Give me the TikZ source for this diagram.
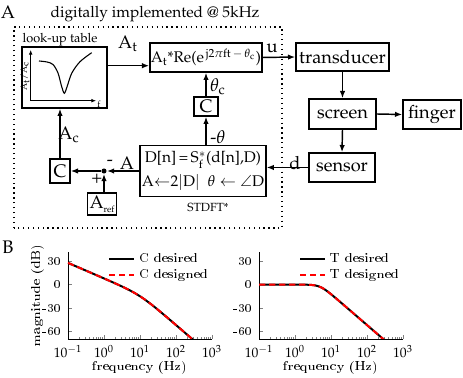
\documentclass[tikz,border=0pt]{standalone}
\usepackage[T1]{fontenc}
\usepackage{mathpazo}
\usepackage{amsmath,amssymb}
\usepackage{tikz}
\usepackage{pgfplots}
\pgfplotsset{compat=1.18}
\usetikzlibrary{positioning,arrows.meta}

\tikzset{
  desired/.style={black, solid, line width=1.1pt},
  designed/.style={red, line width=1.1pt, dash pattern=on 3.5pt off 2pt},
}
\newcommand{\plotfont}{\fontfamily{lmr}\fontsize{7.5}{8.5}\selectfont}

\begin{document}
\begin{tikzpicture}[x=0.55pt, y=0.55pt,
    blk/.style={draw, line width=0.8pt, inner sep=1pt, align=center},
    sig/.style={line width=0.8pt, -{Latex[length=4pt,width=3pt]}},
    thin sig/.style={line width=0.4pt, -{Latex[length=2.5pt,width=2pt]}}]
  \useasboundingbox (0,0) rectangle (463,378);

  % panel A
  \node at (8,366) {A};
  \node[font=\fontsize{8.5}{10}\selectfont] at (155,364) {digitally implemented @ 5kHz};
  \draw[dotted, line width=0.7pt] (14,150) rectangle (282,351);

  % blocks
  \node[blk, minimum width=46.75pt, minimum height=33.55pt] (lut) at (64.5,300.5) {};
  \node[font=\fontsize{7}{8}\selectfont] at (60,338) {look-up table};
  \node[blk, minimum width=59.4pt, minimum height=15.95pt, inner sep=0.5pt, font=\fontsize{8.5}{10}\selectfont] (mod) at (206,320.5)
    {A$_\mathrm{t}$*Re(e$^{\,\mathrm{j2}\pi\mathrm{ft}\,-\,\theta_\mathrm{c}}$)};
  \node[blk, minimum width=13.2pt, minimum height=10.45pt] (cth) at (206,271.5) {C};
  \node[blk, minimum width=66pt, minimum height=28.05pt, font=\fontsize{8.5}{13}\selectfont] (stdft) at (203,207)
    {D[n]\,=\,S$^*_\mathrm{f}$(d[n],D)\\ A$\leftarrow$2$|$D$|$~~$\theta\leftarrow\angle$D};
  \node[font=\fontsize{6.5}{8}\selectfont] at (208,170) {STDFT*};
  \node[blk, minimum width=11pt, minimum height=13.2pt] (cA) at (60,207) {C};
  \node[blk, minimum width=11.55pt, minimum height=12.1pt] (aref) at (102,174)
    {A\raisebox{-0.5ex}{\fontsize{5}{5}\selectfont ref}};
  \node[circle, fill, inner sep=0pt, minimum size=2.8pt] (sum) at (104,207) {};

  \node[blk, minimum width=51.15pt, minimum height=15.4pt] (trans) at (342.5,321) {transducer};
  \node[blk, minimum width=36.85pt, minimum height=16.5pt] (screen) at (342.5,264) {screen};
  \node[blk, minimum width=31.9pt, minimum height=15.95pt] (finger) at (432,263.5) {finger};
  \node[blk, minimum width=36.3pt, minimum height=15.95pt] (sensor) at (342,210.5) {sensor};

  % look-up curve
  \draw[thin sig] (30.7,277.3) -- (30.7,328);
  \draw[thin sig] (30,277.3) -- (96,277.3);
  \node[font=\fontsize{5}{6}\selectfont] at (99,274) {f};
  \node[rotate=90, font=\fontsize{5}{6}\selectfont] at (25,302) {A$_\mathrm{t}$/A$_\mathrm{c}$};
  \draw[line width=0.6pt] plot[smooth, tension=0.5] coordinates {(39,317) (47,316) (53,313.5)
    (58,305) (61.5,292) (64.3,284.7) (67,291) (71.7,304.7) (80,316.3) (91.7,325.3)};

  % signals
  \coordinate (atin) at (152,312.3);
  \draw[sig] (lut.east |- atin) -- (mod.west |- atin);
  \node at (128,334) {A$_\mathrm{t}$};
  \draw[sig] (mod.east) -- (trans.west);
  \node at (272,330) {u};
  \draw[sig] (trans.south) -- (screen.north);
  \draw[sig] (screen.east) -- (finger.west);
  \draw[sig] (screen.south) -- (sensor.north);
  \draw[sig] (sensor.west) -- (sensor.west -| stdft.east);
  \node at (295,215) {d};
  \draw[sig] (stdft.north -| cth) -- (cth.south);
  \node at (218,241) {-$\theta$};
  \draw[sig] (cth.north) -- (mod.south);
  \node at (218,291) {$\theta_\mathrm{c}$};
  \draw[sig] (stdft.west) -- (sum);
  \node at (110,215) {-};
  \node at (127,215) {A};
  \draw[sig] (sum) -- (cA.east);
  \draw[sig] (aref.north -| sum) -- (sum);
  \node at (97,199) {+};
  \draw[sig] (cA.north) -- (cA.north |- lut.south);
  \node at (69,243) {A$_\mathrm{c}$};

  % panel B
  \node at (8,131) {B};
  \begin{axis}[at={(37.4pt,21.45pt)}, anchor=south west,
      scale only axis, width=79.2pt, height=47.85pt,
      xmode=log, xmin=0.1, xmax=1000, ymin=-70, ymax=42,
      xtick={0.1,1,10,100,1000},
      ytick={-60,-30,0,30}, yticklabels={-60,-30,0,30},
      axis x line*=bottom, axis y line*=left,
      tick align=inside, major tick length=2pt, minor tick length=1.2pt,
      tick label style={font=\plotfont}, label style={font=\plotfont},
      xlabel={frequency (Hz)}, ylabel={magnitude (dB)},
      xlabel style={at={(axis description cs:0.5,-0.32)}, anchor=center},
      ylabel style={at={(axis description cs:-0.21,0.5)}, anchor=center},
      legend cell align=left,
      legend style={draw=none, fill=none, at={(1.01,1.04)}, anchor=north east,
        font=\plotfont, inner sep=0.5pt, row sep=-1.5pt},
      legend image code/.code={\draw[#1] (0pt,0pt) -- (14pt,0pt);}]
    \addplot[desired, domain=-1:3, samples=160]
      ({10^x}, {8 - 20*x - 10*log10(1 + 10^(2*x - 2))});
    \addplot[designed, domain=-1:3, samples=160]
      ({10^x}, {8 - 20*x - 10*log10(1 + 10^(2*x - 2))});
    \legend{C desired, C designed}
  \end{axis}
  \begin{axis}[at={(142.45pt,21.45pt)}, anchor=south west,
      scale only axis, width=79.2pt, height=47.85pt,
      xmode=log, xmin=0.1, xmax=1000, ymin=-70, ymax=42,
      xtick={0.1,1,10,100,1000},
      ytick={-60,-30,0,30}, yticklabels={-60,-30,0,30},
      axis x line*=bottom, axis y line*=left,
      tick align=inside, major tick length=2pt, minor tick length=1.2pt,
      tick label style={font=\plotfont}, label style={font=\plotfont},
      xlabel={frequency (Hz)},
      xlabel style={at={(axis description cs:0.5,-0.32)}, anchor=center},
      legend cell align=left,
      legend style={draw=none, fill=none, at={(1.01,1.04)}, anchor=north east,
        font=\plotfont, inner sep=0.5pt, row sep=-1.5pt},
      legend image code/.code={\draw[#1] (0pt,0pt) -- (14pt,0pt);}]
    \addplot[desired, domain=-1:3, samples=160]
      ({10^x}, {-10*log10(1 + 10^(4*(x - 0.69897)))});
    \addplot[designed, domain=-1:3, samples=160]
      ({10^x}, {-10*log10(1 + 10^(4*(x - 0.69897)))});
    \legend{T desired, T designed}
  \end{axis}
\end{tikzpicture}
\end{document}
